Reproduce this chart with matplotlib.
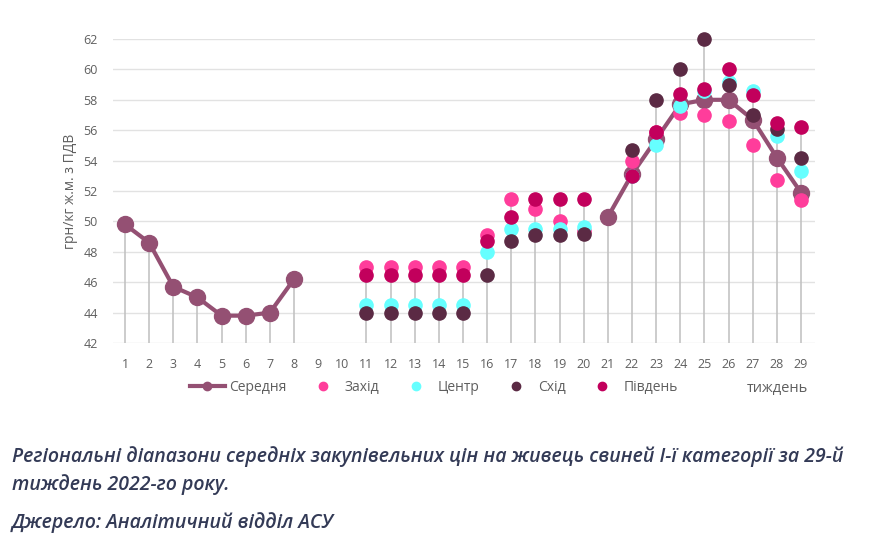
import numpy as np
import matplotlib.pyplot as plt
from matplotlib.lines import Line2D

plt.rcParams['font.family'] = ['Open Sans', 'DejaVu Sans']

weeks = list(range(1, 30))
nan = np.nan

# average price, UAH/kg live weight incl. VAT
mean = [49.8, 48.6, 45.7, 45.0, 43.8, 43.8, 44.0, 46.2,
        nan, nan, nan, nan, nan, nan, nan, nan, nan, nan, nan, nan,
        50.3, 53.1, 55.4, 57.7, 58.0, 58.0, 56.7, 54.2, 51.9]
west = [nan] * 10 + [47.0, 47.0, 47.0, 47.0, 47.0, 49.1, 51.5, 50.8, 50.0, 49.4,
                     nan, 54.0, 55.9, 57.1, 57.0, 56.6, 55.0, 52.7, 51.4]
center = [nan] * 10 + [44.5, 44.5, 44.5, 44.5, 44.5, 48.0, 49.5, 49.5, 49.5, 49.6,
                       nan, 53.0, 55.0, 57.6, 58.6, 59.2, 58.6, 55.6, 53.3]
east = [nan] * 10 + [44.0, 44.0, 44.0, 44.0, 44.0, 46.5, 48.7, 49.1, 49.1, 49.2,
                     nan, 54.7, 58.0, 60.0, 62.0, 59.0, 57.0, 56.1, 54.2]
south = [nan] * 10 + [46.5, 46.5, 46.5, 46.5, 46.5, 48.7, 50.3, 51.5, 51.5, 51.5,
                      nan, 53.0, 55.9, 58.4, 58.7, 60.0, 58.3, 56.5, 56.2]

labels = ['Середня', 'Захід', 'Центр', 'Схід', 'Південь']
c_mean = '#945073'
c_west = '#ff3d9b'
c_center = '#66ffff'
c_east = '#5b2a44'
c_south = '#c2005c'

fig = plt.figure(figsize=(8.71, 5.47), dpi=100)
ax = fig.add_axes([0.1297, 0.3729, 0.806, 0.5558])

ax.set_xlim(0.5, 29.58)
ax.set_ylim(42, 62)
ax.set_yticks(range(42, 63, 2))
ax.set_xticks(weeks)
ax.grid(axis='y', color='#e2e2e2', linewidth=1)
ax.set_axisbelow(True)
for s in ax.spines.values():
    s.set_visible(False)
ax.tick_params(length=0, labelsize=9, colors='#5f5f5f', pad=11)
ax.tick_params(axis='y', pad=11)

# stems to the highest value of each week
table = np.array([mean, west, center, east, south], dtype=float)
top = np.nanmax(np.where(np.isnan(table), -np.inf, table), axis=0)
for w, t in zip(weeks, top):
    if np.isfinite(t):
        ax.vlines(w, 42, t, color='#bfbfbf', linewidth=1.1, zorder=1)

ax.plot(weeks, mean, color=c_mean, linewidth=3, marker='o', markersize=11.5,
        zorder=3, clip_on=False)
for vals, col in [(west, c_west), (center, c_center), (east, c_east), (south, c_south)]:
    ax.plot(weeks, vals, linestyle='none', marker='o', markersize=9.5,
            color=col, zorder=4, clip_on=False)

ax.set_ylabel('грн/кг ж.м. з ПДВ', fontsize=10, color='#5f5f5f', labelpad=4)

handles = [Line2D([], [], color=c_mean, linewidth=3, marker='o', markersize=6)]
for col in [c_west, c_center, c_east, c_south]:
    handles.append(Line2D([], [], linestyle='none', marker='o', markersize=6, color=col))
fig.legend(handles, labels, loc='center left', bbox_to_anchor=(190 / 871, 0.2925), ncol=5,
           frameon=False, fontsize=10, labelcolor='#5f5f5f', handlelength=2.5,
           handletextpad=0.3, columnspacing=1.4, borderpad=0, borderaxespad=0)
fig.text(0.893, 0.2905, 'тиждень', fontsize=10.5, color='#5f5f5f', ha='center', va='center')

cap = dict(fontsize=14, style='italic', weight='semibold', color='#333a56', ha='left', va='center')
fig.text(0.014, 1 - 457 / 547, 'Регіональні діапазони середніх закупівельних цін на живець свиней І-ї категорії за 29-й', **cap)
fig.text(0.014, 1 - 485 / 547, 'тиждень 2022-го року.', **cap)
fig.text(0.014, 1 - 523 / 547, 'Джерело: Аналітичний відділ АСУ', **cap)

fig.savefig('out.png', dpi=100)
